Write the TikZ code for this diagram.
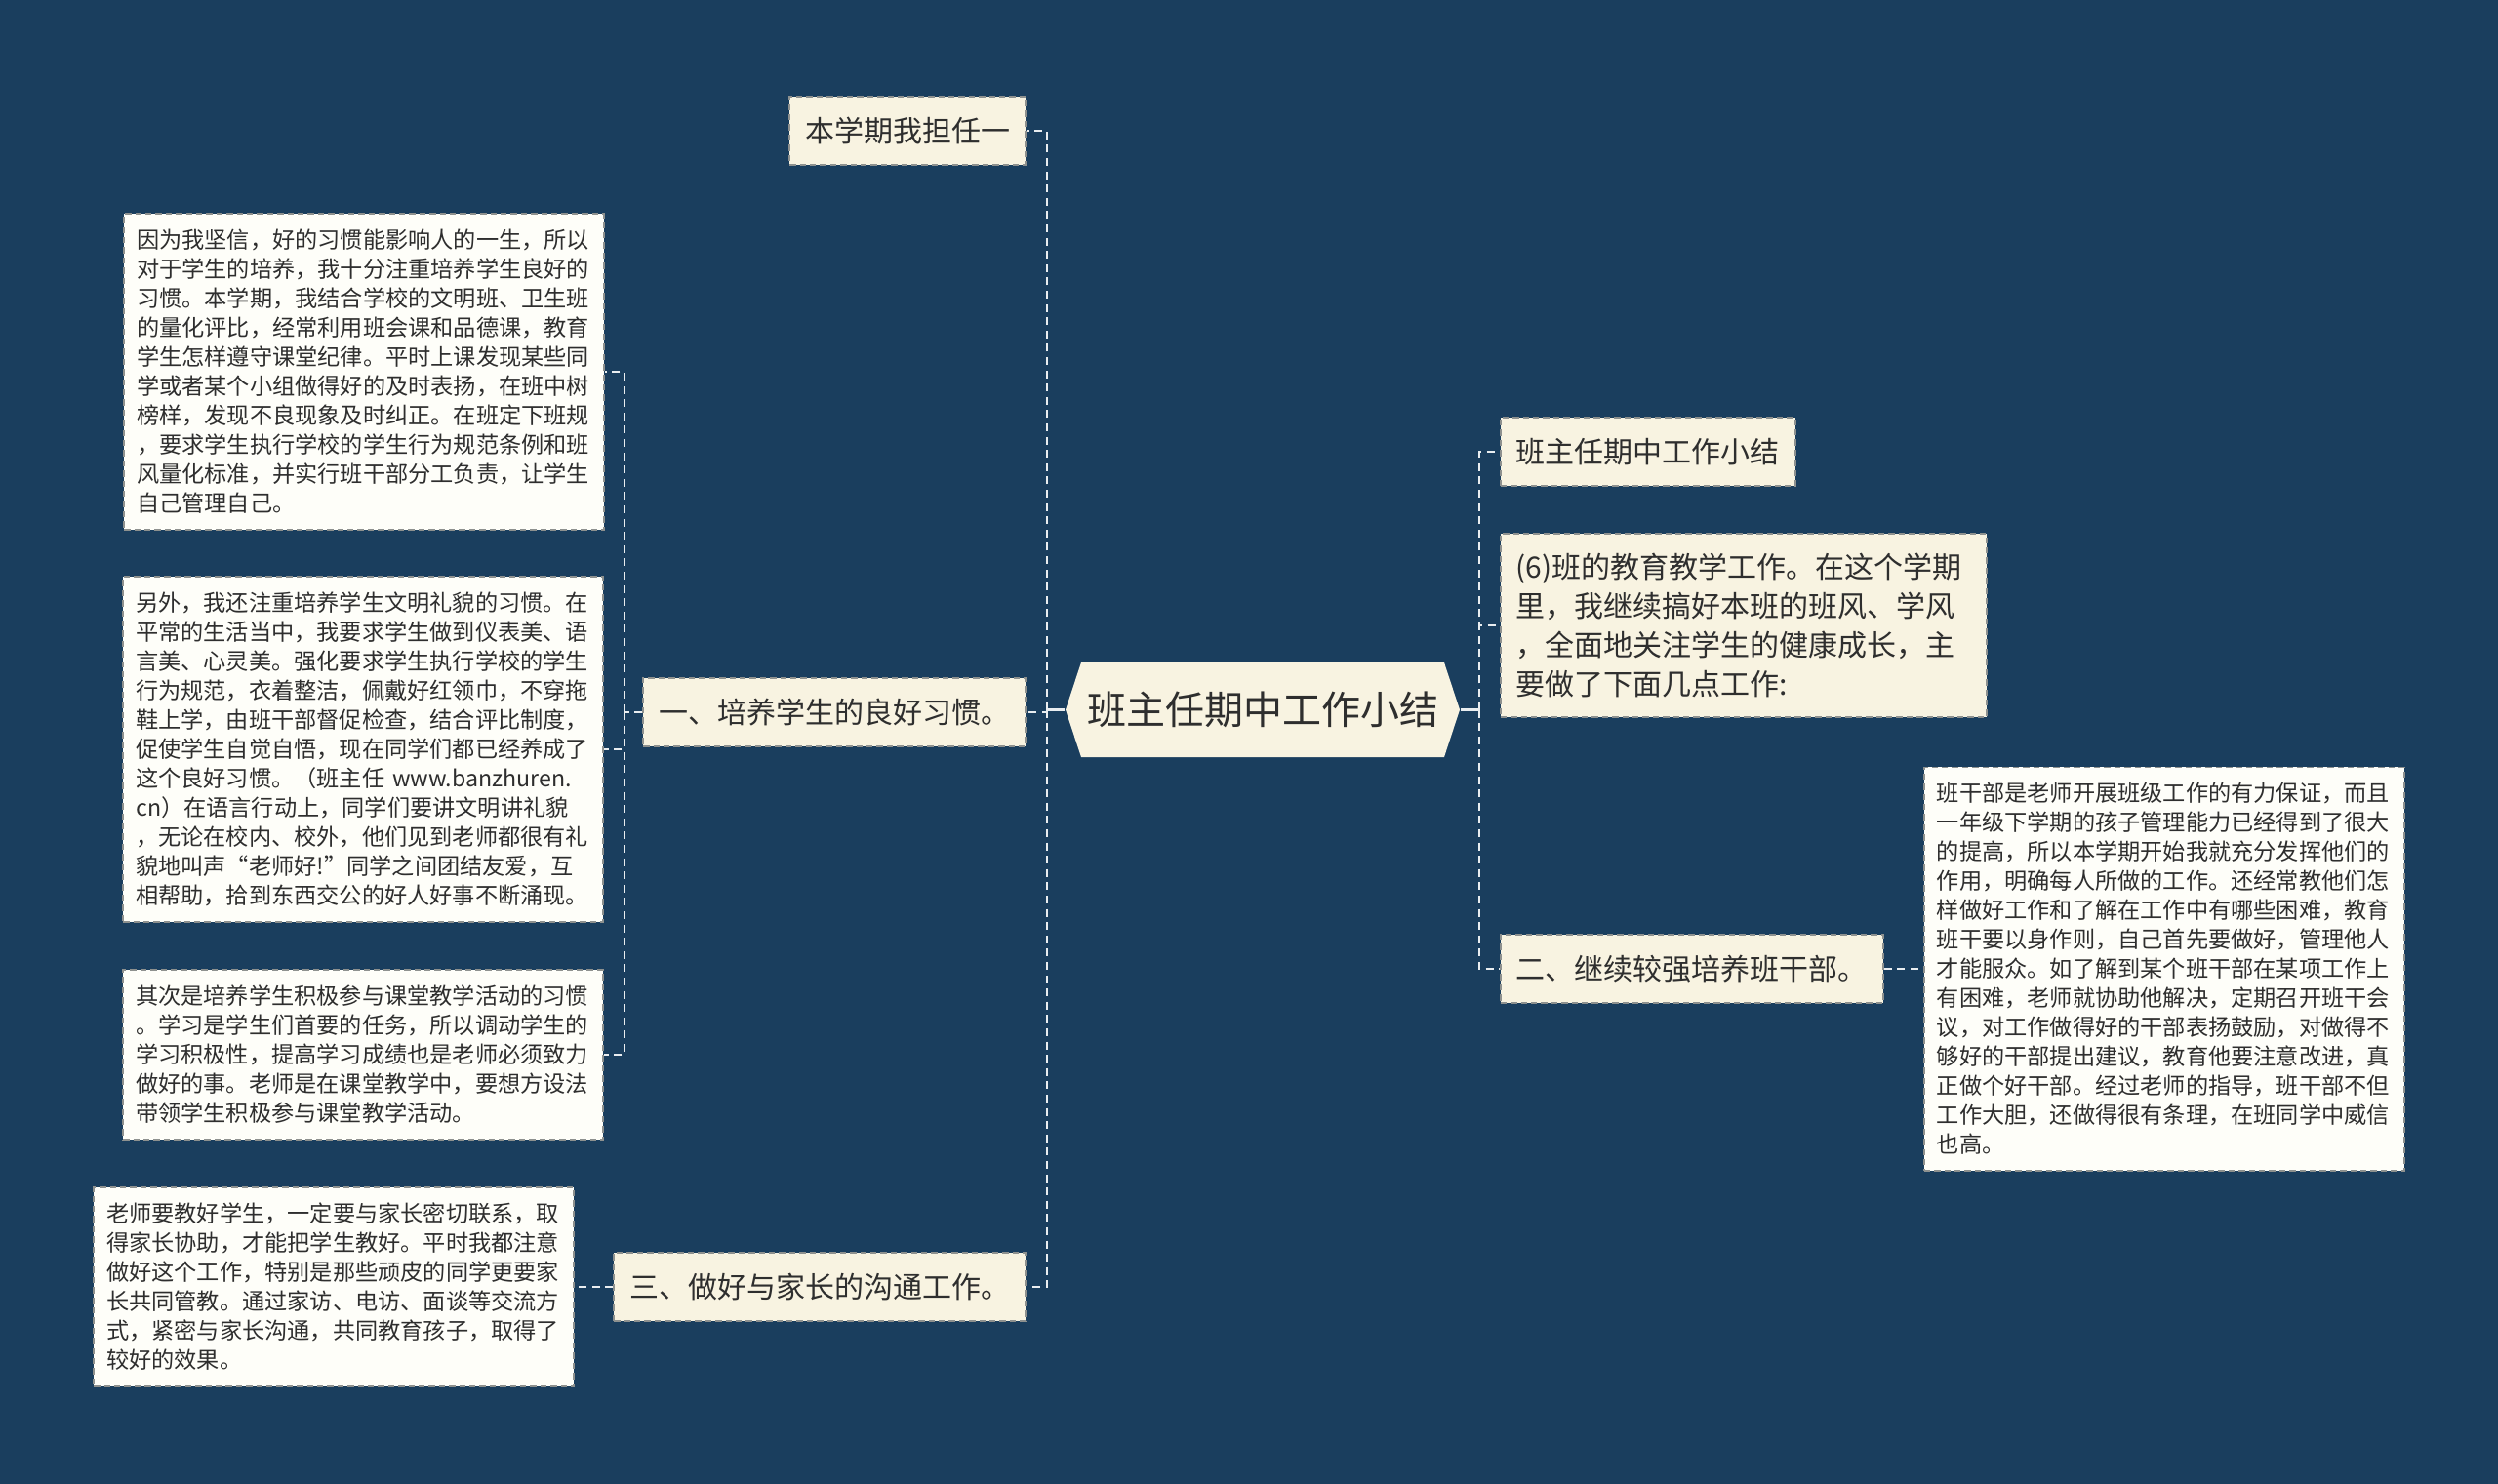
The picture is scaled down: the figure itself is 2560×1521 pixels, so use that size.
\documentclass[tikz,border=0pt]{standalone}
\usepackage{fontspec}
\setmainfont{Noto Sans CJK SC}
\usepackage{tikz}
\usetikzlibrary{shapes.symbols}
\definecolor{cBg}{HTML}{1A3E5E}
\definecolor{cRootF}{HTML}{F8F3E1}
\definecolor{cBranchF}{HTML}{F8F3E1}
\definecolor{cLeafF}{HTML}{FEFEF9}
\definecolor{cEdge}{HTML}{8E918F}
\definecolor{cText}{HTML}{2E2E2E}
\definecolor{cLink}{HTML}{E9EDF0}
\tikzset{
  mmroot/.style={signal,signal to=west and east,signal pointer angle=143.5,
      fill=cRootF,text=cText,font=\fontsize{10}{12}\selectfont,
      minimum height=24.25pt,inner xsep=1.5pt,inner ysep=0pt},
  mmbranch/.style={draw=cEdge,dash pattern=on 1.6pt off 1pt,line width=0.4pt,
      fill=cBranchF,text=cText,font=\fontsize{7.5}{10}\selectfont,
      inner xsep=4pt,inner ysep=5pt,minimum height=17.5pt,align=left},
  mmleaf/.style={draw=cEdge,dash pattern=on 1.6pt off 1pt,line width=0.4pt,
      fill=cLeafF,text=cText,font=\fontsize{5.8}{7.5}\selectfont,
      inner xsep=3.25pt,inner ysep=4pt,align=left,text width=116.5pt},
  mmlink/.style={draw=cLink,line width=0.6pt,dash pattern=on 2pt off 1.4pt},
  mmstem/.style={draw=cLink,line width=0.6pt},
}
\begin{document}
\begin{tikzpicture}[x=0.25pt,y=-0.25pt]
  \fill[cBg] (0,0) rectangle (2560,1521);

  \node[mmroot] (root) at (1294,727.5) {班主任期中工作小结};

  % left side
  \node[mmbranch,anchor=east] (b1) at (1052,134) {本学期我担任一};
  \node[mmbranch,anchor=east] (b2) at (1052,730) {一、培养学生的良好习惯。};
  \node[mmbranch,anchor=east] (b3) at (1052,1319) {三、做好与家长的沟通工作。};

  \node[mmleaf,anchor=east] (t1) at (620,381)
   {因为我坚信，好的习惯能影响人的一生，所以\\
    对于学生的培养，我十分注重培养学生良好的\\
    习惯。本学期，我结合学校的文明班、卫生班\\
    的量化评比，经常利用班会课和品德课，教育\\
    学生怎样遵守课堂纪律。平时上课发现某些同\\
    学或者某个小组做得好的及时表扬，在班中树\\
    榜样，发现不良现象及时纠正。在班定下班规\\
    ，要求学生执行学校的学生行为规范条例和班\\
    风量化标准，并实行班干部分工负责，让学生\\
    自己管理自己。};
  \node[mmleaf,anchor=east] (t2) at (619,768)
   {另外，我还注重培养学生文明礼貌的习惯。在\\
    平常的生活当中，我要求学生做到仪表美、语\\
    言美、心灵美。强化要求学生执行学校的学生\\
    行为规范，衣着整洁，佩戴好红领巾，不穿拖\\
    鞋上学，由班干部督促检查，结合评比制度，\\
    促使学生自觉自悟，现在同学们都已经养成了\\
    这个良好习惯。（班主任 www.banzhuren.\\
    cn）在语言行动上，同学们要讲文明讲礼貌\\
    ，无论在校内、校外，他们见到老师都很有礼\\
    貌地叫声“老师好!”同学之间团结友爱，互\\
    相帮助，拾到东西交公的好人好事不断涌现。};
  \node[mmleaf,anchor=east] (t3) at (619,1081)
   {其次是培养学生积极参与课堂教学活动的习惯\\
    。学习是学生们首要的任务，所以调动学生的\\
    学习积极性，提高学习成绩也是老师必须致力\\
    做好的事。老师是在课堂教学中，要想方设法\\
    带领学生积极参与课堂教学活动。};
  \node[mmleaf,anchor=east] (t4) at (589,1319)
   {老师要教好学生，一定要与家长密切联系，取\\
    得家长协助，才能把学生教好。平时我都注意\\
    做好这个工作，特别是那些顽皮的同学更要家\\
    长共同管教。通过家访、电访、面谈等交流方\\
    式，紧密与家长沟通，共同教育孩子，取得了\\
    较好的效果。};

  % right side
  \node[mmbranch,anchor=west] (r1) at (1537,463) {班主任期中工作小结};
  \node[mmbranch,anchor=west,text width=116.5pt] (r2) at (1537,641)
   {(6)班的教育教学工作。在这个学期\\
    里，我继续搞好本班的班风、学风\\
    ，全面地关注学生的健康成长，主\\
    要做了下面几点工作:};
  \node[mmbranch,anchor=west] (r3) at (1537,993) {二、继续较强培养班干部。};

  \node[mmleaf,anchor=west] (t5) at (1971,993)
   {班干部是老师开展班级工作的有力保证，而且\\
    一年级下学期的孩子管理能力已经得到了很大\\
    的提高，所以本学期开始我就充分发挥他们的\\
    作用，明确每人所做的工作。还经常教他们怎\\
    样做好工作和了解在工作中有哪些困难，教育\\
    班干要以身作则，自己首先要做好，管理他人\\
    才能服众。如了解到某个班干部在某项工作上\\
    有困难，老师就协助他解决，定期召开班干会\\
    议，对工作做得好的干部表扬鼓励，对做得不\\
    够好的干部提出建议，教育他要注意改进，真\\
    正做个好干部。经过老师的指导，班干部不但\\
    工作大胆，还做得很有条理，在班同学中威信\\
    也高。};

  % connectors
  \coordinate (lsp) at (1073,727.5);
  \coordinate (rsp) at (1516,727.5);
  \coordinate (lsp2) at (640,730);

  \draw[mmstem] (root.west) -- (lsp);
  \draw[mmlink] (lsp) |- (b1.east);
  \draw[mmlink] (lsp) |- (b2.east);
  \draw[mmlink] (lsp) |- (b3.east);

  \draw[mmstem] (root.east) -- (rsp);
  \draw[mmlink] (rsp) |- (r1.west);
  \draw[mmlink] (rsp) |- (r2.west);
  \draw[mmlink] (rsp) |- (r3.west);

  \draw[mmlink] (b2.west) -- (lsp2);
  \draw[mmlink] (lsp2) |- (t1.east);
  \draw[mmlink] (lsp2) |- (t2.east);
  \draw[mmlink] (lsp2) |- (t3.east);

  \draw[mmlink] (b3.west) -- (t4.east);
  \draw[mmlink] (r3.east) -- (t5.west);
\end{tikzpicture}
\end{document}
